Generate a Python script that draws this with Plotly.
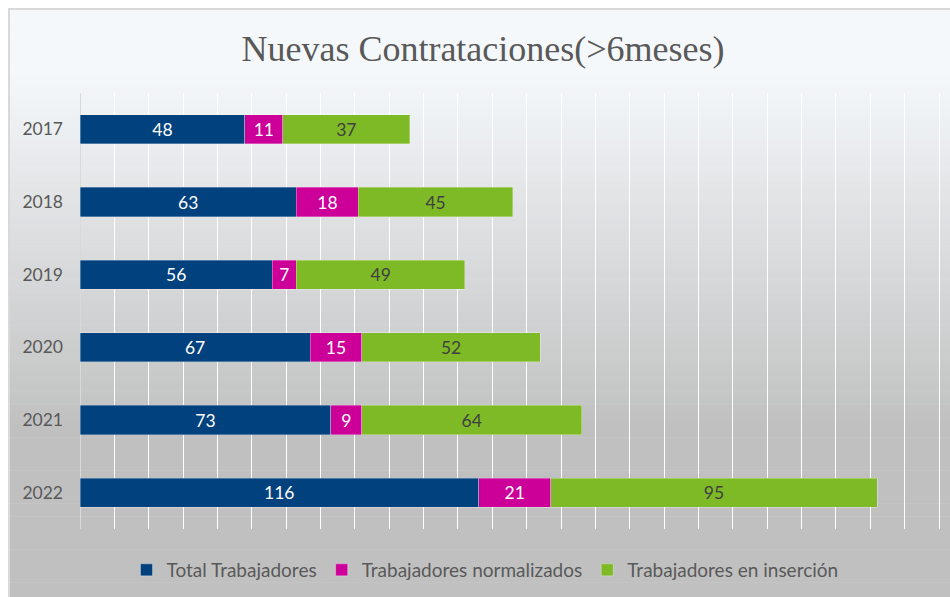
import plotly.graph_objects as go

years = ["2017", "2018", "2019", "2020", "2021", "2022"]
total = [48, 63, 56, 67, 73, 116]
normalizados = [11, 18, 7, 15, 9, 21]
insercion = [37, 45, 49, 52, 64, 95]

series_names = ["Total Trabajadores", "Trabajadores normalizados", "Trabajadores en inserción"]
series_colors = ["#00417E", "#CC0099", "#7EB926"]
text_colors = ["#FFFFFF", "#FFFFFF", "#404040"]

W, H = 950, 597
ML, MR, MT, MB = 80, 5, 93, 68
PW = W - ML - MR
PH = H - MT - MB
XMAX = 250 * PW / 859.0


def xp(px):
    return (px - ML) / PW


def yp(py):
    return (H - MB - py) / PH


fig = go.Figure()
for name, vals, col, tcol in zip(series_names, [total, normalizados, insercion], series_colors, text_colors):
    fig.add_trace(go.Bar(
        y=years, x=vals, name=name, orientation="h",
        marker=dict(color=col, line=dict(width=0.6, color="rgba(255,255,255,0.5)")),
        text=[str(v) for v in vals], textposition="inside", insidetextanchor="middle",
        textangle=0,
        textfont=dict(color=tcol, size=17.5, family="Lato"),
        hoverinfo="x+y+name",
    ))

# gradient background strips
shapes = []
top_col = (245, 248, 251)
bot_col = (192, 192, 192)
y0g, y1g = 70, 430
N = 90
edges = [9 + i * (H + 5 - 9) / N for i in range(N + 1)]
for i in range(N):
    a, b = edges[i], edges[i + 1]
    mid = (a + b) / 2
    t = min(max((mid - y0g) / (y1g - y0g), 0), 1)
    c = tuple(round(top_col[k] + (bot_col[k] - top_col[k]) * t) for k in range(3))
    shapes.append(dict(type="rect", xref="paper", yref="paper",
                       x0=xp(9), x1=xp(W + 5), y0=yp(b + 0.5), y1=yp(a),
                       fillcolor="rgb(%d,%d,%d)" % c, line=dict(width=0), layer="below"))
shapes.append(dict(type="rect", xref="paper", yref="paper",
                   x0=xp(9), x1=xp(W + 5), y0=yp(H + 5), y1=yp(9),
                   fillcolor="rgba(0,0,0,0)", line=dict(width=2, color="#D9D9D9"), layer="below"))

fig.update_layout(
    width=W, height=H,
    barmode="stack", bargap=0.6,
    paper_bgcolor="white", plot_bgcolor="rgba(0,0,0,0)",
    margin=dict(l=ML, r=MR, t=MT, b=MB, pad=0),
    title=dict(text="Nuevas Contrataciones(>6meses)", x=483 / W, xanchor="center",
               y=1 - 48 / H, yanchor="middle", xref="container", yref="container",
               font=dict(family="Liberation Serif", size=36, color="#595959")),
    xaxis=dict(range=[0, XMAX], dtick=10, tick0=0, showgrid=True, gridcolor="#FFFFFF", gridwidth=1,
               showticklabels=False, zeroline=True, zerolinecolor="#D9D9D9", zerolinewidth=1,
               showline=False, fixedrange=True),
    yaxis=dict(autorange="reversed", showgrid=False, showline=False, ticks="",
               ticklabelstandoff=16, fixedrange=True,
               tickfont=dict(family="Lato", size=17.5, color="#595959")),
    legend=dict(orientation="h", x=xp(485), xanchor="center", y=yp(570), yanchor="middle",
                font=dict(family="Lato", size=19, color="#595959"), bgcolor="rgba(0,0,0,0)",
                traceorder="normal"),
    shapes=shapes,
    uniformtext=dict(mode=False),
)

fig.write_html("out.html", post_script="document.body.style.margin='0';",
               config={"displayModeBar": False})
